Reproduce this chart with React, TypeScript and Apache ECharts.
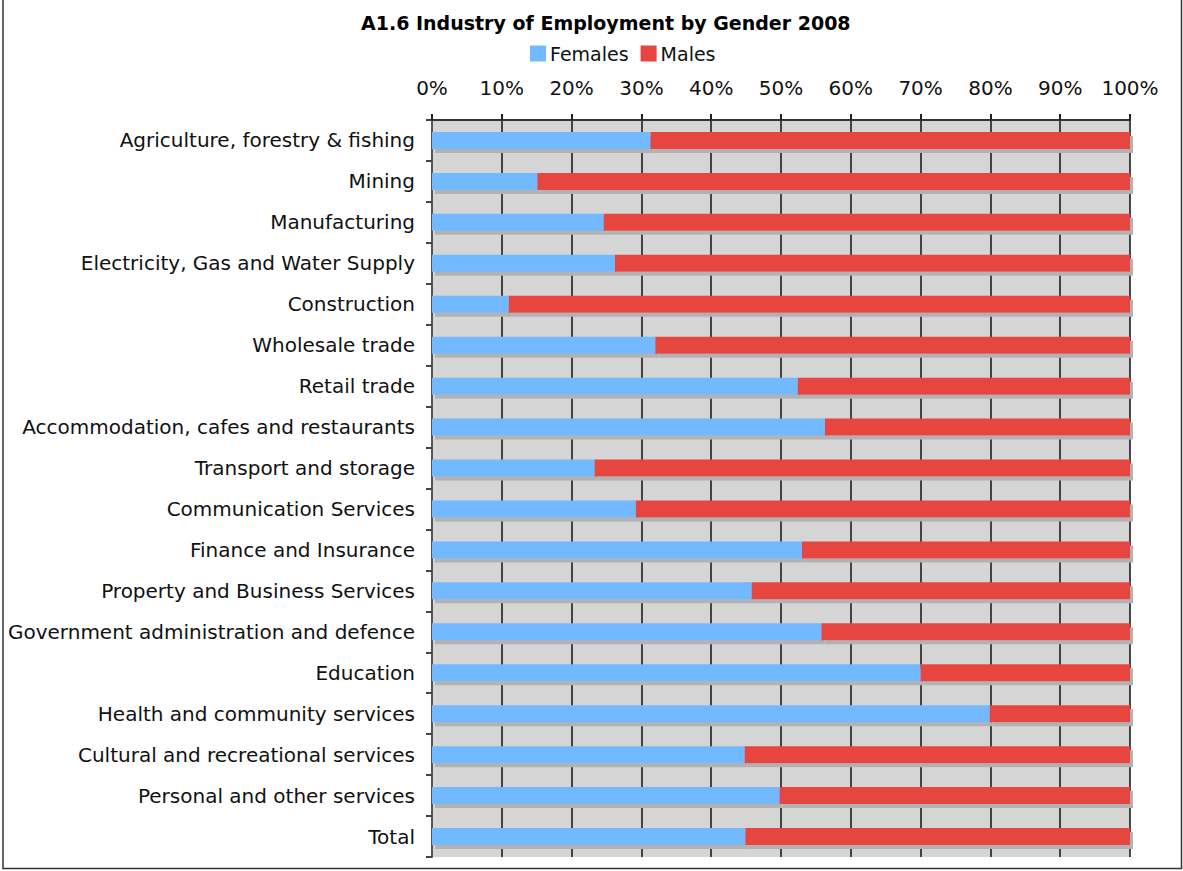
import React, { useEffect, useRef } from "react";
import * as echarts from "echarts";

const categories = [
  "Agriculture, forestry & fishing",
  "Mining",
  "Manufacturing",
  "Electricity, Gas and Water Supply",
  "Construction",
  "Wholesale trade",
  "Retail trade",
  "Accommodation, cafes and restaurants",
  "Transport and storage",
  "Communication Services",
  "Finance and Insurance",
  "Property and Business Services",
  "Government administration and defence",
  "Education",
  "Health and community services",
  "Cultural and recreational services",
  "Personal and other services",
  "Total",
];

const females = [31.3, 15.1, 24.6, 26.2, 11.0, 32.0, 52.4, 56.3, 23.3, 29.2, 53.0, 45.8, 55.8, 70.0, 79.9, 44.8, 49.8, 44.9];
const males = females.map((f) => Math.round((100 - f) * 10) / 10);

const xTicks = [0, 10, 20, 30, 40, 50, 60, 70, 80, 90, 100];

const FONT = "DejaVu Sans";

export default function App() {
  const ref = useRef<HTMLDivElement>(null);
  useEffect(() => {
    document.body.style.margin = "0";
    const chart = echarts.init(ref.current!, null, { renderer: "svg" });
    const shadow = {
      shadowBlur: 0,
      shadowOffsetX: 3,
      shadowOffsetY: 4,
      shadowColor: "#b2b2b2",
    };
    chart.setOption({
      animation: false,
      backgroundColor: "#ffffff",
      title: {
        text: "A1.6 Industry of Employment by Gender 2008",
        left: 356,
        top: 8,
        textStyle: { fontFamily: FONT, fontSize: 19, fontWeight: "bold", color: "#000" },
      },
      legend: {
        left: 525,
        top: 39,
        itemWidth: 16,
        itemHeight: 16,
        itemGap: 12,
        icon: "rect",
        textStyle: { fontFamily: FONT, fontSize: 19, color: "#111", padding: [0, 0, 0, -1] },
        data: ["Females", "Males"],
      },
      grid: { left: 432, right: 53, top: 120, bottom: 14, containLabel: false,
        show: true, backgroundColor: "#d5d5d5", borderWidth: 0 },
      xAxis: {
        type: "value",
        position: "top",
        min: 0,
        max: 100,
        interval: 10,
        axisLine: { show: true, lineStyle: { color: "#333", width: 2 } },
        axisTick: { show: true, length: 6, lineStyle: { color: "#222", width: 2 } },
        axisLabel: {
          margin: 22,
          fontFamily: FONT,
          fontSize: 20,
          color: "#111",
          formatter: (v: number) => (xTicks.includes(v) ? v + "%" : ""),
        },
        splitLine: { show: true, lineStyle: { color: "#1e1e1e", width: 1.6 } },
      },
      yAxis: {
        type: "category",
        inverse: true,
        data: categories,
        axisLine: { show: true, lineStyle: { color: "#555", width: 2 } },
        axisTick: { show: true, length: 6, lineStyle: { color: "#444", width: 2 } },
        axisLabel: { margin: 17, fontFamily: FONT, fontSize: 20, color: "#111" },
      },
      series: [
        {
          name: "Females",
          type: "bar",
          stack: "g",
          data: females,
          barWidth: 17,
          itemStyle: { color: "#73b9ff", ...shadow },
        },
        {
          name: "Males",
          type: "bar",
          stack: "g",
          data: males,
          barWidth: 17,
          itemStyle: { color: "#e74540", ...shadow },
        },
      ],
      graphic: [
        {
          type: "rect",
          shape: { x: 3, y: -2, width: 1178.5, height: 870.5 },
          style: { fill: "none", stroke: "#333", lineWidth: 1.5 },
          silent: true,
        },
      ],
    });
    return () => chart.dispose();
  }, []);
  return <div ref={ref} style={{ width: 1183, height: 871 }} />;
}
